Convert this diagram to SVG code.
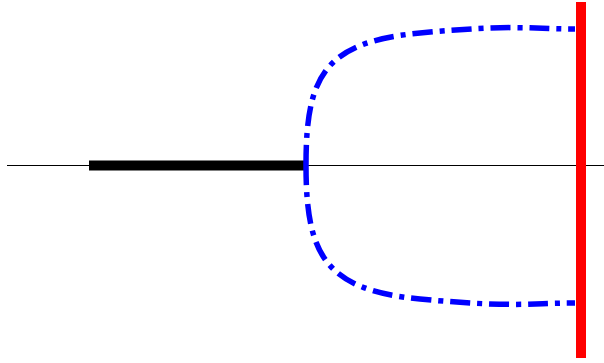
<svg xmlns="http://www.w3.org/2000/svg" width="604" height="363" viewBox="0 0 604 363">
<style>
.axis{stroke:#000;stroke-width:1;fill:none}
.bar{stroke:#000;stroke-width:10;fill:none}
.curve{stroke:#0000ff;stroke-width:5.5;fill:none;stroke-dasharray:20,7,5,7}
.wall{stroke:#ff0000;stroke-width:10;fill:none}
</style>
<line class="axis" x1="7" y1="165.5" x2="604" y2="165.5"/>
<line class="bar" x1="89" y1="165.5" x2="306" y2="165.5"/>
<path class="curve" d="M306,165 C306,75 325,42 420,33 S530,29 575,29"/>
<path class="curve" d="M306,165 C306,255 325,290 420,299 S530,303 575,303"/>
<line class="wall" x1="581" y1="2" x2="581" y2="358"/>
</svg>
